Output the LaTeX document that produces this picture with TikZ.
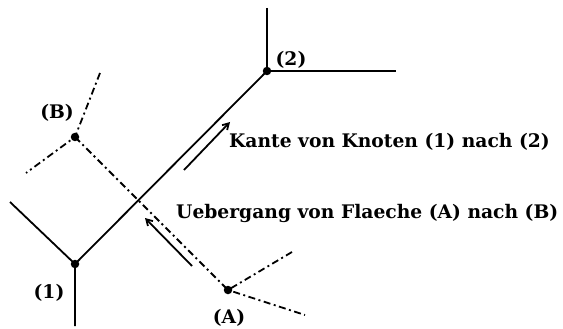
\documentclass[tikz,border=0pt]{standalone}
\usepackage{fontspec}
\setmainfont{DejaVu Serif}
\usetikzlibrary{arrows.meta}
\tikzset{
  kanteLine/.style={line width=1.8pt},
  grenzLine/.style={line width=1.8pt, dash pattern=on 7pt off 3.5pt on 2pt off 3.5pt},
  knotenDot/.style={circle, fill=black, inner sep=0pt, minimum size=8.5pt},
  hinweisArrow/.style={line width=1.8pt, -{Straight Barb[length=6pt,width=7pt]}},
  marke/.style={font=\fontsize{18.7}{22}\selectfont\bfseries, inner sep=1pt},
  hinweis/.style={font=\fontsize{18.7}{22}\selectfont\bfseries, anchor=base west, inner sep=0pt}
}
\begin{document}
\begin{tikzpicture}[x=1pt,y=-1pt]
  \useasboundingbox (0,0) rectangle (563,329);
  % Knoten und Flaechen
  \node[knotenDot] (k1) at (75,264) {};
  \node[knotenDot] (k2) at (267,71) {};
  \node[knotenDot] (fA) at (228,290) {};
  \node[knotenDot] (fB) at (75,137) {};
  \coordinate (k1links) at (10,202);
  \coordinate (k1unten) at (75,326);
  \coordinate (k2oben) at (267,8);
  \coordinate (k2rechts) at (396,71);
  \coordinate (fBoben) at (100,73);
  \coordinate (fBlinks) at (26,173);
  \coordinate (fAoben) at (292,252);
  \coordinate (fAunten) at (305,315);

  \draw[kanteLine] (k1links) -- (k1.center) -- (k1unten);
  \draw[kanteLine] (k1.center) -- (k2.center);
  \draw[kanteLine] (k2oben) -- (k2.center) -- (k2rechts);
  \draw[grenzLine] (fBoben) -- (fB.center) -- (fBlinks);
  \draw[grenzLine] (fB.center) -- (fA.center);
  \draw[grenzLine] (fAoben) -- (fA.center) -- (fAunten);

  % Beschriftungen
  \node[marke] (l1) at (49,293) {(1)};
  \node[marke] (l2) at (291,60) {(2)};
  \node[marke] (lA) at (229,318) {(A)};
  \node[marke] (lB) at (57,113) {(B)};

  % Richtungspfeile
  \coordinate (kpA) at (184,170);
  \coordinate (kpE) at (230,122);
  \coordinate (upA) at (192,266);
  \coordinate (upE) at (145,218);
  \draw[hinweisArrow] (kpA) -- (kpE);
  \draw[hinweisArrow] (upA) -- (upE);
  \node[hinweis] (kante) at (229,147) {Kante von Knoten (1) nach (2)};
  \node[hinweis] (uebergang) at (176,218) {Uebergang von Flaeche (A) nach (B)};
\end{tikzpicture}
\end{document}
